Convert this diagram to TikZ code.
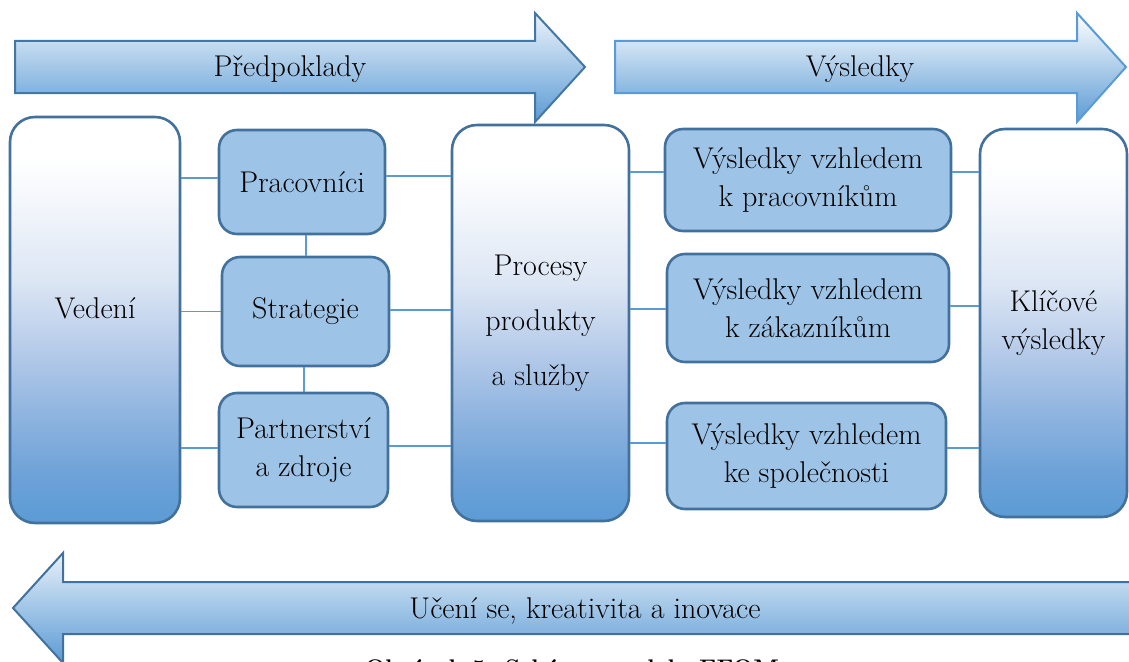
\documentclass[tikz,border=0pt]{standalone}
\usepackage{fontspec}

% colours
\definecolor{edgeblue}{HTML}{41719C}
\definecolor{linkblue}{HTML}{5B9BD5}
\definecolor{boxfill}{HTML}{9DC3E6}
\definecolor{tallB}{HTML}{5B9BD5}
\definecolor{tallC}{HTML}{6EA2D8}
\definecolor{tallD}{HTML}{92B6E0}
\definecolor{tallE}{HTML}{B9CDEA}
\definecolor{tallF}{HTML}{DCE6F4}
\definecolor{tallG}{HTML}{F0F4FA}

% white at the top fading to blue at the bottom
\pgfdeclareverticalshading{tallshade}{100bp}{%
  color(0bp)=(tallB); color(25bp)=(tallB); color(31bp)=(tallC);
  color(39bp)=(tallD); color(47bp)=(tallE); color(55bp)=(tallF);
  color(63bp)=(tallG); color(70bp)=(white); color(100bp)=(white)}

\begin{document}
\begin{tikzpicture}[x=1pt,y=-1pt,
  every node/.style={font=\fontsize{30pt}{38pt}\selectfont, align=center, inner sep=0pt},
  tallbox/.style={draw=edgeblue, line width=2.6pt, rounded corners=25pt,
    shade, shading=tallshade},
  smallbox/.style={draw=edgeblue, line width=2.6pt, rounded corners=18pt, fill=boxfill},
  link/.style={draw=linkblue, line width=1.4pt},
  bigarrow/.style={line width=2pt, line join=miter}
]
\useasboundingbox (0,0) rectangle (1129,661);
\clip (0,0) rectangle (1129,661);

% banner arrows
\shade[bigarrow, draw=edgeblue!85!linkblue, top color=white!88!linkblue,
  middle color=linkblue!45!white, bottom color=linkblue]
  (15,41) -- (535,41) -- (535,13) -- (585,67) -- (535,122) -- (535,93) -- (15,93) -- cycle;
\node[anchor=base] (pred) at (290,76) {Předpoklady};

\shade[bigarrow, draw=linkblue, top color=white,
  middle color=linkblue!33!white, bottom color=linkblue]
  (615,41) -- (1077,41) -- (1077,13) -- (1126,67) -- (1077,122) -- (1077,93) -- (615,93) -- cycle;
\node[anchor=base] (vysl) at (860,76) {Výsledky};

\shade[bigarrow, draw=edgeblue, top color=white!85!linkblue,
  middle color=linkblue!42!white, bottom color=linkblue]
  (1140,582) -- (63,582) -- (63,553) -- (13,608) -- (63,663) -- (63,634) -- (1140,634) -- cycle;
\node[anchor=base] (uceni) at (585,618) {Učení se, kreativita a inovace};

% enablers
\node[tallbox, minimum width=170pt, minimum height=406pt] (vedeni) at (95,320)
  {\raisebox{24pt}{Vedení}};
\node[smallbox, minimum width=166pt, minimum height=104pt] (prac) at (302,182) {Pracovníci};
\node[smallbox, minimum width=167pt, minimum height=109pt] (strat) at (305.5,311.5) {Strategie};
\node[smallbox, minimum width=169pt, minimum height=114pt] (partner) at (303.5,450)
  {Partnerství\\a zdroje};
\node[tallbox, minimum width=177pt, minimum height=396pt,
  font=\fontsize{30pt}{55pt}\selectfont] (procesy) at (540.5,323)
  {Procesy\\produkty\\a služby};

% results
\node[smallbox, minimum width=286pt, minimum height=102pt] (vkp) at (808,180)
  {Výsledky vzhledem\\k pracovníkům};
\node[smallbox, minimum width=282pt, minimum height=108pt] (vkz) at (808,308)
  {Výsledky vzhledem\\k zákazníkům};
\node[smallbox, minimum width=279pt, minimum height=106pt] (vks) at (806.5,456)
  {Výsledky vzhledem\\ke společnosti};
\node[tallbox, minimum width=147pt, minimum height=388pt] (klic) at (1053.5,323)
  {Klíčové\\výsledky};

% connectors
\coordinate (c1) at ([yshift=4pt]prac.west);
\coordinate (c2) at (strat.west);
\coordinate (c3) at ([yshift=2pt]partner.west);
\coordinate (c4) at ([yshift=6pt]prac.east);
\coordinate (c5) at ([yshift=1.5pt]strat.east);
\coordinate (c6) at ([yshift=4pt]partner.east);
\coordinate (c7) at ([yshift=8pt]vkp.west);
\coordinate (c8) at ([yshift=-1pt]vkz.west);
\coordinate (c9) at ([yshift=13pt]vks.west);
\coordinate (c10) at ([yshift=8pt]vkp.east);
\coordinate (c11) at ([yshift=2pt]vkz.east);
\coordinate (c12) at ([yshift=8pt]vks.east);
\coordinate (v1) at ([xshift=4pt]prac.south);
\coordinate (v2) at ([xshift=-1.5pt]strat.south);

\draw[link] (c1) -- (c1 -| vedeni.east);
\draw[link] (c2) -- (c2 -| vedeni.east);
\draw[link] (c3) -- (c3 -| vedeni.east);
\draw[link] (c4) -- (c4 -| procesy.west);
\draw[link] (c5) -- (c5 -| procesy.west);
\draw[link] (c6) -- (c6 -| procesy.west);
\draw[link] (c7) -- (c7 -| procesy.east);
\draw[link] (c8) -- (c8 -| procesy.east);
\draw[link] (c9) -- (c9 -| procesy.east);
\draw[link] (c10) -- (c10 -| klic.west);
\draw[link] (c11) -- (c11 -| klic.west);
\draw[link] (c12) -- (c12 -| klic.west);
\draw[link] (v1) -- (v1 |- strat.north);
\draw[link] (v2) -- (v2 |- partner.north);

% caption, running off the lower edge
\node[anchor=base, font=\bfseries\fontsize{24pt}{30pt}\selectfont] (caption) at (572,676)
  {Obrázek 5: Schéma modelu EFQM};
\end{tikzpicture}
\end{document}
